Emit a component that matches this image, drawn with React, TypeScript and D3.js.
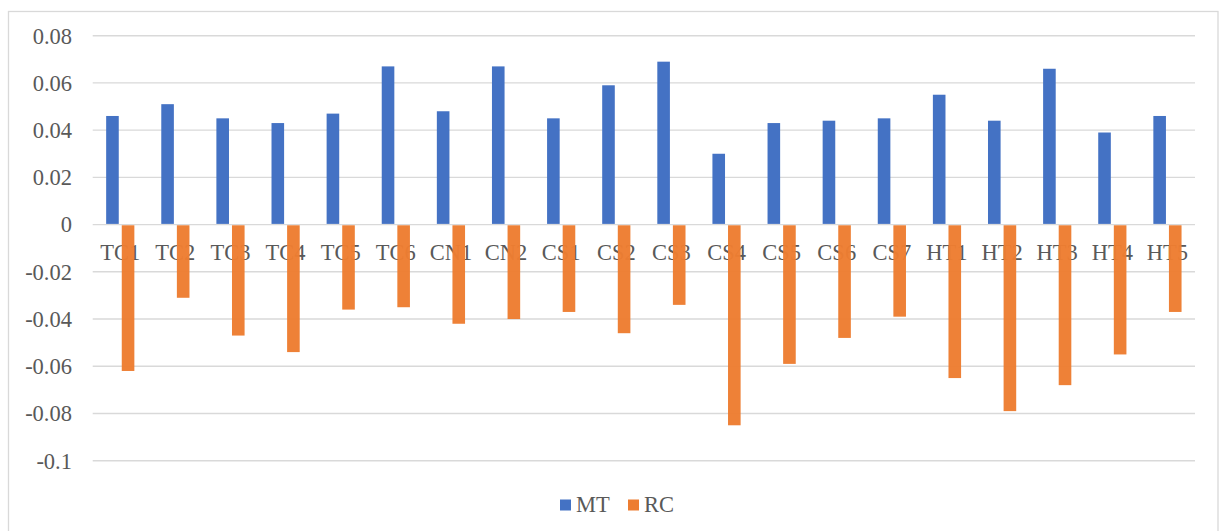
import React from "react";
import * as d3 from "d3";

const categories = [
  "TC1", "TC2", "TC3", "TC4", "TC5", "TC6", "CN1", "CN2", "CS1", "CS2",
  "CS3", "CS4", "CS5", "CS6", "CS7", "HT1", "HT2", "HT3", "HT4", "HT5",
];
const mtValues = [
  0.046, 0.051, 0.045, 0.043, 0.047, 0.067, 0.048, 0.067, 0.045, 0.059,
  0.069, 0.030, 0.043, 0.044, 0.045, 0.055, 0.044, 0.066, 0.039, 0.046,
];
const rcValues = [
  -0.062, -0.031, -0.047, -0.054, -0.036, -0.035, -0.042, -0.040, -0.037, -0.046,
  -0.034, -0.085, -0.059, -0.048, -0.039, -0.065, -0.079, -0.068, -0.055, -0.037,
];
const yTicks = [0.08, 0.06, 0.04, 0.02, 0, -0.02, -0.04, -0.06, -0.08, -0.1];
const seriesNames = ["MT", "RC"];
const seriesColors = ["#4472C4", "#ED7D31"];

const W = 1219;
const H = 531;
const plotLeft = 92.7;
const plotRight = 1195;
const FONT = "Liberation Serif, Times New Roman, serif";
const TEXT = "#595959";
const GRID = "#d9d9d9";
const textStyle: React.CSSProperties = { fontFamily: FONT, fontSize: 22.5 };

export default function App() {
  const x = d3.scaleBand<string>().domain(categories).range([plotLeft, plotRight]).padding(0);
  const y = d3.scaleLinear().domain([-0.1, 0.08]).range([460.7, 35.7]);
  const barW = 12.6;
  const gap = 1.5;
  const y0 = y(0);

  const fmt = (v: number) => (v === 0 ? "0" : String(+v.toFixed(2)));

  return (
    <div style={{ position: "fixed", left: 0, top: 0, width: W, height: H, background: "#fff" }}>
      <svg width={W} height={H} style={{ display: "block" }}>
        <rect x={8.5} y={11.5} width={1209.5} height={560} fill="#fff" stroke={GRID} strokeWidth={1.3} />

        {yTicks.map((t) => (
          <g key={t}>
            <line x1={plotLeft} x2={plotRight} y1={y(t)} y2={y(t)} stroke={GRID} strokeWidth={1.4} />
            <text x={72} y={y(t)} dy="0.35em" textAnchor="end" style={textStyle} fill={TEXT}>
              {fmt(t)}
            </text>
          </g>
        ))}

        {categories.map((c, i) => {
          const cx = (x(c) as number) + x.bandwidth() / 2;
          const mt = mtValues[i];
          const rc = rcValues[i];
          return (
            <g key={c}>
              <rect
                x={cx - gap - barW}
                y={y(mt)}
                width={barW}
                height={y0 - 0.7 - y(mt)}
                fill={seriesColors[0]}
              />
              <text x={cx} y={y0 + 35} textAnchor="middle" style={textStyle} fill={TEXT}>
                {c}
              </text>
              <rect
                x={cx + gap}
                y={y0 + 0.7}
                width={barW}
                height={y(rc) - y0 - 0.7}
                fill={seriesColors[1]}
                fillOpacity={0.97}
              />
            </g>
          );
        })}

        {seriesNames.map((s, i) => {
          const lx = [560, 628][i];
          return (
            <g key={s}>
              <rect x={lx} y={499.5} width={11} height={11} fill={seriesColors[i]} />
              <text x={lx + 16} y={511.5} style={textStyle} fill={TEXT}>
                {s}
              </text>
            </g>
          );
        })}
      </svg>
    </div>
  );
}
